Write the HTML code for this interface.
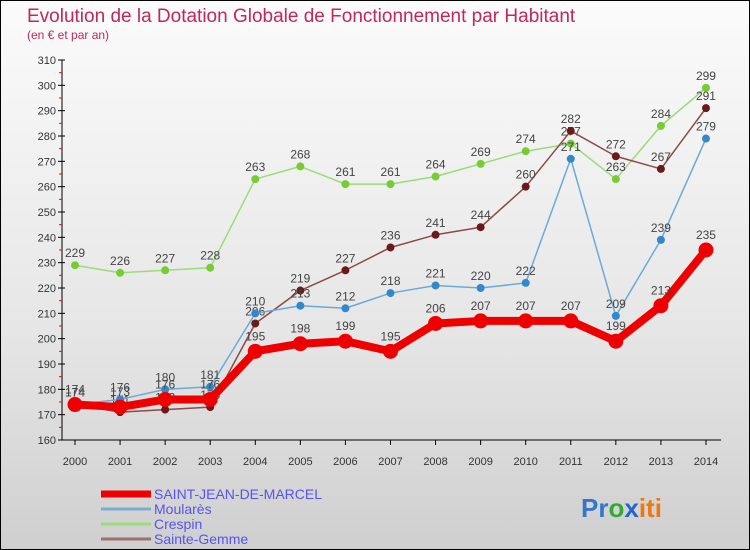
<!DOCTYPE html>
<html><head><meta charset="utf-8"><style>
body{margin:0}
#c{width:748px;height:548px;border:1px solid #000;background:linear-gradient(#fbfbfb,#e6e6e6 60%,#cfcfcf);position:relative;font-family:"Liberation Sans",sans-serif;overflow:hidden}
</style></head><body>
<div id="c">
<svg id="s" width="748" height="548"></svg>
</div>
<script>
const years=["2000","2001","2002","2003","2004","2005","2006","2007","2008","2009","2010","2011","2012","2013","2014"];
const sjm=[174,173,176,176,195,198,199,195,206,207,207,207,199,213,235];
const moul=[174,176,180,181,210,213,212,218,221,220,222,271,209,239,279];
const cres=[229,226,227,228,263,268,261,261,264,269,274,277,263,284,299];
const sg=[174,171,172,173,206,219,227,236,241,244,260,282,272,267,291];
const yTicks=[160,170,180,190,200,210,220,230,240,250,260,270,280,290,300,310];
const NS="http://www.w3.org/2000/svg",s=document.getElementById('s');
const X=i=>74+i*45.07, Y=v=>439-(v-160)*380/150;
function el(t,a,txt){const e=document.createElementNS(NS,t);for(const k in a)e.setAttribute(k,a[k]);if(txt!=null)e.textContent=txt;s.appendChild(e);return e;}
let e;
e=el('text',{x:26,y:21,'font-size':19,fill:'#c0285a'},'Evolution de la Dotation Globale de Fonctionnement par Habitant');

e=el('text',{x:26,y:38,'font-size':12,fill:'#c0285a'},'(en € et par an)');

e=el('line',{x1:61,y1:59,x2:61,y2:439,stroke:'#000'});

e=el('line',{x1:61,y1:439,x2:720,y2:439,stroke:'#000'});

yTicks.forEach(v=>{const y=Y(v);
 e=el('line',{x1:57,y1:y,x2:64,y2:y,stroke:'#000'});
 if(v<310){e=el('line',{x1:58,y1:y-12.67,x2:61,y2:y-12.67,stroke:'#f00'});}
 e=el('text',{x:55,y:y+4,'font-size':11,fill:'#333','text-anchor':'end'},v);});
years.forEach((yr,i)=>{
 e=el('line',{x1:X(i),y1:439,x2:X(i),y2:444,stroke:'#000'});
 e=el('text',{x:X(i),y:464,'font-size':11,fill:'#333','text-anchor':'middle'},yr);});
function series(d,col,dot,w,r,name,lab){
 e=el('polyline',{points:d.map((v,i)=>X(i)+','+Y(v)).join(' '),fill:'none',stroke:col,'stroke-width':w,'stroke-linejoin':'round'});
 
 d.forEach((v,i)=>{e=el('circle',{cx:X(i),cy:Y(v),r:r,fill:dot});
  e=el('text',{x:X(i),y:Y(v)-(lab||8),'font-size':12,fill:'#444','text-anchor':'middle'},v);});
}
series(cres,'#99dd77','#77cc33',1.5,4,'crespin');
series(sg,'#8b4a4a','#6b1a1a',1.5,4,'sainte-gemme');
series(moul,'#6aaad8','#3388cc',1.5,4,'moulares');
series(sjm,'#ee0000','#ee0000',8,7.5,'saint-jean-de-marcel',11);
const leg=[['SAINT-JEAN-DE-MARCEL','#ee0000',7],['Moularès','#7aaed0',3],['Crespin','#99dd77',3],['Sainte-Gemme','#9a7070',3]];
leg.forEach((l,i)=>{const y=493+i*15;
 e=el('line',{x1:100,y1:y,x2:150,y2:y,stroke:l[1],'stroke-width':l[2]});
 e=el('text',{x:153,y:y+5,'font-size':14,fill:'#5555ee'},l[0]);});
const lg=el('text',{x:580,y:516,'font-size':26,'font-weight':'bold'});

[['Pr','#3377cc'],['o','#33aa33'],['x','#2266cc'],['iti','#ee7711']].forEach(p=>{const t=document.createElementNS(NS,'tspan');t.setAttribute('fill',p[1]);t.textContent=p[0];lg.appendChild(t);});
</script>
</body></html>
